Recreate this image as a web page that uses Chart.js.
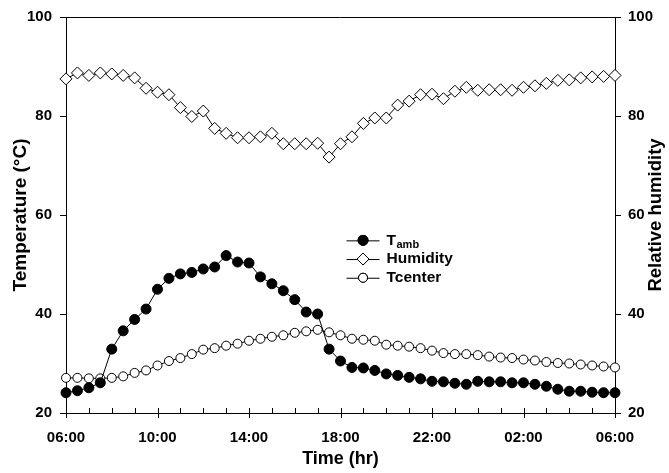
<!DOCTYPE html>
<html>
<head>
<meta charset="utf-8">
<script src="https://cdn.jsdelivr.net/npm/chart.js@4/dist/chart.umd.min.js"></script>
<style>
  html, body { margin: 0; padding: 0; background: #fff; }
  #wrap { width: 669px; height: 473px; position: relative; }
</style>
</head>
<body>
<div id="wrap"><canvas id="chart"></canvas></div>
<script>
// time of day, every 30 min
const times = [
  '06:00','06:30','07:00','07:30','08:00','08:30','09:00','09:30',
  '10:00','10:30','11:00','11:30','12:00','12:30','13:00','13:30',
  '14:00','14:30','15:00','15:30','16:00','16:30','17:00','17:30',
  '18:00','18:30','19:00','19:30','20:00','20:30','21:00','21:30',
  '22:00','22:30','23:00','23:30','00:00','00:30','01:00','01:30',
  '02:00','02:30','03:00','03:30','04:00','04:30','05:00','05:30',
  '06:00'
];

// ambient temperature (°C)
const tAmb = [
  24.1, 24.5, 25.1, 26.1, 32.9, 36.6, 38.9, 41.0,
  45.0, 47.2, 48.1, 48.4, 49.1, 49.5, 51.8, 50.5,
  50.3, 47.5, 46.1, 44.7, 42.9, 40.4, 40.0, 32.9,
  30.5, 29.2, 29.1, 28.6, 27.9, 27.6, 27.2, 26.9,
  26.4, 26.3, 26.0, 25.8, 26.4, 26.3, 26.3, 26.1,
  26.1, 25.8, 25.4, 24.8, 24.4, 24.4, 24.2, 24.1,
  24.1
];

// relative humidity (%)
const humidity = [
  87.5, 88.7, 88.2, 88.7, 88.5, 88.2, 87.7, 85.6,
  84.8, 84.3, 81.7, 79.9, 81.0, 77.5, 76.5, 75.6,
  75.6, 75.8, 76.5, 74.4, 74.4, 74.4, 74.5, 71.7,
  74.4, 75.8, 78.5, 79.6, 79.6, 82.2, 83.0, 84.3,
  84.4, 83.5, 85.0, 85.8, 85.2, 85.3, 85.3, 85.2,
  85.8, 86.1, 86.6, 87.2, 87.3, 87.7, 87.9, 88.0,
  88.2
];

// center temperature (°C)
const tCenter = [
  27.1, 27.1, 27.0, 27.0, 27.1, 27.4, 28.1, 28.6,
  29.6, 30.5, 31.1, 31.9, 32.8, 33.1, 33.6, 34.0,
  34.6, 35.0, 35.4, 35.7, 36.2, 36.5, 36.8, 36.3,
  35.7, 35.0, 34.8, 34.6, 33.8, 33.6, 33.4, 33.1,
  32.6, 32.1, 31.9, 31.9, 31.7, 31.4, 31.2, 31.1,
  30.8, 30.6, 30.3, 30.1, 30.0, 29.8, 29.6, 29.4,
  29.2
];

const yTicks = [20, 40, 60, 80, 100];

const FONT = '"Liberation Sans", Arial, sans-serif';

// x ticks (minor inward, major crossing), top border, right title, legend
const extras = {
  id: 'extras',
  afterDraw(chart) {
    const { ctx, chartArea: a, scales } = chart;
    const x = scales.x;
    ctx.save();
    ctx.strokeStyle = '#000';
    ctx.lineWidth = 1;
    // top border
    ctx.beginPath();
    ctx.moveTo(a.left, a.top + 0.5);
    ctx.lineTo(a.right, a.top + 0.5);
    ctx.stroke();
    // hourly ticks on x axis
    for (let i = 0; i < times.length; i += 2) {
      const px = Math.round(x.getPixelForValue(i)) + 0.5;
      ctx.beginPath();
      if (i % 8 === 0) {
        ctx.moveTo(px, a.bottom - 5);
        ctx.lineTo(px, a.bottom + 5);
      } else {
        ctx.moveTo(px, a.bottom - 5);
        ctx.lineTo(px, a.bottom);
      }
      ctx.stroke();
    }
    // right axis title, reading bottom to top
    ctx.fillStyle = '#000';
    ctx.font = 'bold 18.5px ' + FONT;
    ctx.textAlign = 'center';
    ctx.textBaseline = 'middle';
    ctx.translate(chart.width - 13, (a.top + a.bottom) / 2);
    ctx.rotate(-Math.PI / 2);
    ctx.fillText('Relative humidity', 0, 0);
    ctx.restore();

    // legend
    const items = [
      { ds: 0, label: 'T', sub: 'amb' },
      { ds: 1, label: 'Humidity' },
      { ds: 2, label: 'Tcenter' }
    ];
    const lx = a.left + (a.right - a.left) * 0.511;
    const ly = a.top + (a.bottom - a.top) * 0.564;
    ctx.save();
    items.forEach((it, k) => {
      const ds = chart.data.datasets[it.ds];
      const y = ly + k * 18.7;
      ctx.strokeStyle = '#000';
      ctx.lineWidth = 1;
      ctx.beginPath();
      ctx.moveTo(lx, y + 0.5);
      ctx.lineTo(lx + 33, y + 0.5);
      ctx.stroke();
      Chart.helpers.drawPoint(ctx, {
        pointStyle: ds.pointStyle,
        radius: ds.pointRadius,
        borderWidth: 1
      }, lx + 16.5, y);
      ctx.fillStyle = ds.pointBackgroundColor;
      ctx.strokeStyle = '#000';
      ctx.fill();
      ctx.stroke();
      ctx.fillStyle = '#000';
      ctx.textAlign = 'left';
      ctx.textBaseline = 'middle';
      ctx.font = 'bold 15.5px ' + FONT;
      ctx.fillText(it.label, lx + 40, y);
      if (it.sub) {
        const w = ctx.measureText(it.label).width;
        ctx.font = 'bold 11px ' + FONT;
        ctx.fillText(it.sub, lx + 40 + w + 0.5, y + 5);
      }
    });
    ctx.restore();
  }
};

const ds = (label, data, axis, style, radius, bg) => ({
  label: label,
  data: data,
  yAxisID: axis,
  borderColor: '#000',
  borderWidth: 1,
  pointStyle: style,
  pointRadius: radius,
  pointBackgroundColor: bg,
  pointBorderColor: '#000',
  pointBorderWidth: 1,
  tension: 0,
  clip: false
});

new Chart(document.getElementById('chart'), {
  type: 'line',
  data: {
    labels: times,
    datasets: [
      ds('Tamb', tAmb, 'y', 'circle', 5, '#000'),
      ds('Humidity', humidity, 'y1', 'rectRot', 6, '#fff'),
      ds('Tcenter', tCenter, 'y', 'circle', 4.5, '#fff')
    ]
  },
  options: {
    responsive: true,
    maintainAspectRatio: false,
    animation: false,
    layout: { padding: { top: 16, left: 0, right: 0, bottom: 0 } },
    plugins: { legend: { display: false }, tooltip: { enabled: false } },
    scales: {
      x: {
        type: 'category',
        offset: false,
        grid: { display: false },
        border: { display: true, color: '#000', width: 1 },
        ticks: {
          autoSkip: false,
          maxRotation: 0,
          padding: 8,
          color: '#000',
          font: { family: FONT, size: 15, weight: 'bold' },
          callback: (v, i) => (i % 8 === 0 ? times[i] : '')
        },
        title: {
          display: true,
          text: 'Time (hr)',
          color: '#000',
          font: { family: FONT, size: 18, weight: 'bold' },
          padding: { top: 0, bottom: 3 }
        },
        afterFit: s => { s.height = 60; }
      },
      y: {
        position: 'left',
        min: 20,
        max: 100,
        afterBuildTicks: s => { s.ticks = yTicks.map(v => ({ value: v })); },
        grid: { drawOnChartArea: false, tickLength: 6, tickColor: '#000' },
        border: { color: '#000', width: 1 },
        ticks: {
          padding: 8,
          color: '#000',
          font: { family: FONT, size: 15, weight: 'bold' }
        },
        title: {
          display: true,
          text: 'Temperature (°C)',
          color: '#000',
          font: { family: FONT, size: 19, weight: 'bold' },
          padding: { top: 9, bottom: 0 }
        },
        afterFit: s => { s.width = 66; }
      },
      y1: {
        position: 'right',
        min: 20,
        max: 100,
        afterBuildTicks: s => { s.ticks = yTicks.map(v => ({ value: v })); },
        grid: { drawOnChartArea: false, tickLength: 6, tickColor: '#000' },
        border: { color: '#000', width: 1 },
        ticks: {
          padding: 7,
          color: '#000',
          font: { family: FONT, size: 15, weight: 'bold' }
        },
        afterFit: s => { s.width = 54; }
      }
    }
  },
  plugins: [extras]
});
</script>
</body>
</html>
